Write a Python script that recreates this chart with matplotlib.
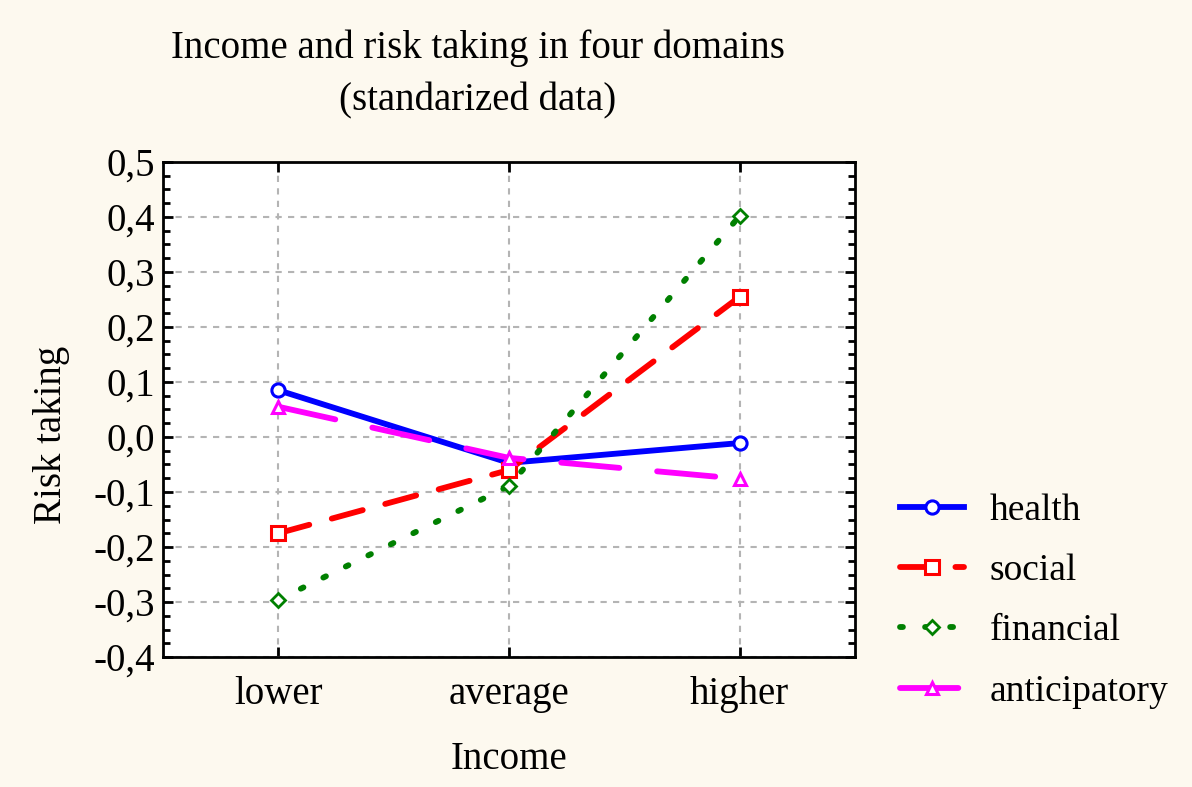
import matplotlib.pyplot as plt
from matplotlib.ticker import MultipleLocator, FuncFormatter

plt.rcParams['font.family'] = ['Liberation Serif', 'DejaVu Serif']

# data
income = ['lower', 'average', 'higher']
health = [0.085, -0.047, -0.011]
social = [-0.175, -0.060, 0.255]
financial = [-0.296, -0.089, 0.402]
anticipatory = [0.055, -0.038, -0.076]

bg = '#fdf9ef'
fig = plt.figure(figsize=(11.92, 7.87), dpi=100, facecolor=bg)
ax = fig.add_axes([163 / 1192, 1 - 657 / 787, (855 - 163) / 1192, (657 - 162) / 787])

x = range(len(income))
lw = 4.2
ax.plot(x, health, color='#0000ff', lw=lw, marker='o', ms=9.5, mfc='white',
        mec='#0000ff', mew=2.2, label='health', zorder=3)
ax.plot(x, social, color='#ff0000', lw=lw, ls=(0, (5.5, 4)), marker='s', ms=9.5,
        mfc='white', mec='#ff0000', mew=2.2, label='social', zorder=3,
        dash_capstyle='round')
ax.plot(x, financial, color='#008000', lw=lw, ls=(0, (0.5, 3.8)), marker='D',
        ms=7, mfc='white', mec='#008000', mew=2, label='financial', zorder=3,
        dash_capstyle='round')
ax.plot(x, anticipatory, color='#ff00ff', lw=lw, ls=(0, (10, 6.5)), marker='^',
        ms=8, mfc='white', mec='#ff00ff', mew=2.2, label='anticipatory', zorder=3,
        dash_capstyle='round')

ax.set_xlim(-0.5, 2.5)
ax.set_ylim(-0.4, 0.5)
ax.set_xticks(list(x))
ax.set_xticklabels(income)
ax.yaxis.set_major_locator(MultipleLocator(0.1))
ax.yaxis.set_minor_locator(MultipleLocator(0.025))
ax.yaxis.set_major_formatter(FuncFormatter(lambda v, p: f'{v:.1f}'.replace('.', ',').replace('-0,0', '0,0')))

ax.tick_params(axis='both', which='both', direction='in', top=True, right=True,
               labelsize=28, width=2, pad=6)
ax.tick_params(axis='both', which='major', length=7)
ax.tick_params(axis='y', which='minor', length=5)
ax.tick_params(axis='x', pad=14)
for s in ax.spines.values():
    s.set_linewidth(2)

ax.grid(True, color='#b4b4b4', ls=(0, (3, 3)), lw=1.5)
ax.set_axisbelow(True)

ax.set_xlabel('Income', fontsize=28, labelpad=20)
ax.set_ylabel('Risk taking', fontsize=28)
ax.yaxis.set_label_coords(-0.134, 0.448)

fig.text(478 / 1192, 1 - 48 / 787, 'Income and risk taking in four domains',
         ha='center', va='center', fontsize=28)
fig.text(478 / 1192, 1 - 101 / 787, '(standarized data)',
         ha='center', va='center', fontsize=28)

fig.legend(loc='center left', bbox_to_anchor=(866 / 1192, 1 - 601 / 787),
           frameon=False, fontsize=27, handlelength=1.7, labelspacing=0.69,
           handletextpad=0.7)

fig.savefig('out.png', dpi=100, facecolor=bg)
